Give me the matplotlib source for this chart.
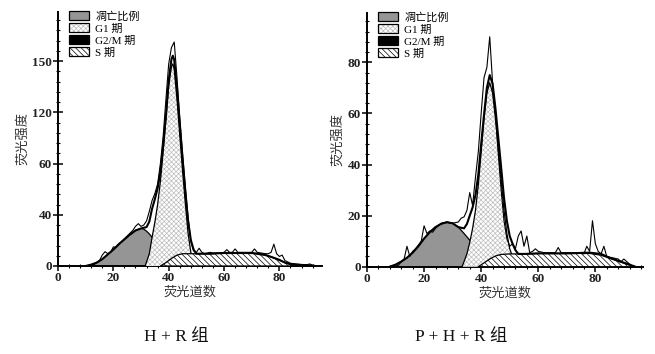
import numpy as np
import matplotlib.pyplot as plt
from matplotlib.patches import Patch
from matplotlib.legend_handler import HandlerTuple
from matplotlib.ticker import MultipleLocator

plt.rcParams['hatch.linewidth'] = 0.5
serif_cjk = ['Liberation Serif', 'Noto Sans CJK SC']

# ---------- H + R 组 (y in axis units; labels on this axis are 0,40,60,120,150) ----------
hr_apo_x = [10, 12, 14, 16, 18, 20, 22, 24, 26, 28, 30, 31, 32, 33, 34, 35, 36, 37, 38, 39]
hr_apo_y = [0, 1, 2.5, 5, 8.5, 12, 16, 19.5, 23, 26, 27.5, 27, 25.5, 23.5, 21, 17, 12, 7, 3, 0]
hr_g1_x = [31.5, 33, 34, 35, 36, 37, 38, 39, 40, 41, 41.5, 42, 43, 44, 45, 46, 47, 48, 49, 50]
hr_g1_y = [0, 9, 21, 32, 45, 62, 84, 108, 132, 146, 148, 144, 122, 96, 70, 46, 24, 10, 3, 0]
hr_g2m_x = [74, 78, 82, 86]
hr_g2m_y = [0, 1, 1, 0]
hr_s_x = [37, 39, 41, 43, 45, 50, 55, 60, 65, 70, 73, 76, 79, 82, 84, 86]
hr_s_y = [0, 2.5, 5.5, 8, 9, 9, 9, 9.5, 9.5, 9.5, 9, 7.5, 5, 2.5, 1, 0]
hr_fit_x = [10, 12, 14, 16, 18, 20, 22, 24, 26, 28, 30, 32, 33, 34, 35, 36, 37, 38, 39, 40,
            41, 41.5, 42, 43, 44, 45, 46, 47, 48, 49, 50, 55, 60, 65, 70, 75, 78, 80, 82, 84,
            86, 88, 90, 92, 93]
hr_fit_y = [0, 1, 2.5, 5, 8.5, 12, 16, 19.5, 23, 26, 27.5, 28.5, 32.5, 42, 49, 57, 69, 88, 110, 136,
            151.5, 154, 151, 130, 104.5, 79, 55, 33, 19, 12, 9, 9, 9.5, 9.5, 9.5, 8, 6, 4.5, 2.5, 1.5,
            1, 0.8, 0.5, 0.3, 0]
hr_raw_x = [11, 13, 15, 16, 17, 18, 19, 20, 21, 22, 24, 26, 27, 28, 29, 30, 31, 32, 33, 34,
            35, 36, 37, 38, 39, 40, 41, 42, 43, 44, 45, 46, 47, 48, 49, 50, 51, 52, 53, 55,
            56, 58, 60, 61, 62, 63, 64, 65, 67, 70, 71, 72, 75, 76, 77, 78, 79, 80, 81, 82,
            84, 86, 88, 90, 91, 92, 93]
hr_raw_y = [0, 1, 4, 8, 10.5, 9, 10, 14, 13.5, 16, 20, 24, 26, 29, 31, 29, 30, 33, 40, 48,
            53, 60, 75, 95, 122, 148, 160, 164, 138, 108, 82, 58, 36, 18, 11, 10, 13, 10, 9, 10,
            9.5, 9.5, 10, 12, 10, 10, 12.5, 10, 10, 10, 12.5, 10, 9, 9, 10, 16, 9, 7, 8, 4,
            2, 1.5, 1, 1, 1.5, 0.5, 0]
hr_ytick_pos = [0, 37.5, 75, 112.5, 150]
hr_ytick_lab = ['0', '40', '60', '120', '150']

# ---------- P + H + R 组 ----------
phr_apo_x = [8, 10, 12, 14, 16, 18, 20, 22, 24, 26, 28, 30, 32, 34, 36, 38, 40]
phr_apo_y = [0, 0.8, 2, 3.5, 5.5, 8, 11, 13.5, 15.5, 16.8, 17.4, 17, 15.5, 13, 10.4, 6, 2]
phr_g1_x = [33.3, 34, 35, 36, 37, 38, 39, 40, 41, 42, 43, 44, 45, 46, 47, 48, 49, 50, 51, 52, 53]
phr_g1_y = [0, 2, 5, 9.5, 15, 22, 32, 45, 58, 68, 72, 68, 58, 46, 34, 22, 13, 7, 4, 1.5, 0]
phr_g2m_x = [76, 80, 84, 88]
phr_g2m_y = [0, 1, 1, 0]
phr_s_x = [39, 41, 43, 45, 47, 50, 55, 60, 70, 78, 82, 85, 88, 91, 94]
phr_s_y = [0, 1.5, 3, 4.2, 4.8, 5, 5, 5.2, 5.2, 5.2, 4.5, 3.3, 2.2, 1, 0]
phr_fit_x = [8, 10, 12, 14, 16, 18, 20, 22, 24, 26, 28, 30, 32, 34, 35, 36, 37, 38, 39, 40,
             41, 42, 43, 44, 45, 46, 47, 48, 49, 50, 51, 52, 53, 55, 60, 70, 78, 82, 85, 88,
             91, 94]
phr_fit_y = [0, 0.8, 2, 3.5, 5.5, 8, 11, 13.5, 15.5, 16.8, 17.4, 17, 15.5, 15, 16.7, 20, 23.2, 28, 36, 48,
             59.5, 70, 75, 71.6, 62, 50.5, 38.8, 27, 18, 12, 9, 6.5, 5, 5, 5.2, 5.2, 5.5, 5, 3.5, 2.3,
             1.2, 0]
phr_raw_x = [9, 11, 12, 13, 14, 15, 16, 17, 18, 19, 20, 21, 22, 23, 24, 26, 28, 30, 32, 33,
             34, 35, 36, 37, 38, 39, 40, 41, 42, 43, 44, 45, 46, 47, 48, 49, 50, 51, 52, 53,
             54, 55, 56, 57, 58, 59, 60, 62, 64, 66, 67, 68, 70, 74, 76, 77, 78, 79, 80, 81,
             82, 83, 84, 86, 88, 89, 90, 91, 92, 93]
phr_raw_y = [0, 0.5, 2, 3, 8, 4, 6, 7, 8.5, 10, 16, 13, 14, 13.5, 15, 17, 17.5, 17, 17.5, 19,
             19.5, 22, 29, 24, 35, 45, 60, 74, 78, 90, 72, 60, 44, 30, 18, 11, 8, 9, 7, 12,
             14, 8, 12, 5.5, 6, 7, 6, 5.5, 5.5, 5.5, 7.5, 5.5, 5.5, 5.5, 5, 8, 6, 18, 9, 6,
             5, 8, 4, 3.5, 3, 2, 3, 2, 1, 0]
phr_ytick_pos = [0, 20, 40, 60, 80]
phr_ytick_lab = ['0', '20', '40', '60', '80']

legend_labels = ['凋亡比例', 'G1 期', 'G2/M 期', 'S 期']
gray = '#959595'
g1_hatch = 'x' * 7
s_hatch = '\\' * 6


def draw_panel(ax, apo, g1, g2m, s, fit, raw, ylim, xmax, yticks, ylabs, minor_step):
    ax.fill_between(apo[0], apo[1], color=gray, lw=0, zorder=2)
    ax.plot(apo[0], apo[1], color='black', lw=0.9, zorder=2.1)
    ax.fill_between(g1[0], g1[1], facecolor='white', edgecolor='#bdbdbd', hatch=g1_hatch, lw=0, zorder=3)
    ax.plot(g1[0], g1[1], color='black', lw=0.9, zorder=3.1)
    ax.fill_between(g2m[0], g2m[1], color='black', lw=0, zorder=3.5)
    ax.fill_between(s[0], s[1], facecolor='white', edgecolor='black', hatch=s_hatch, lw=0.9, zorder=4)
    ax.plot(fit[0], fit[1], color='black', lw=1.5, zorder=5)
    ax.plot(raw[0], raw[1], color='black', lw=0.8, zorder=6)

    ax.set_xlim(0, xmax)
    ax.set_ylim(0, ylim)
    ax.set_xticks([0, 20, 40, 60, 80])
    ax.xaxis.set_minor_locator(MultipleLocator(4))
    ax.set_yticks(yticks)
    ax.set_yticklabels(ylabs)
    ax.yaxis.set_minor_locator(MultipleLocator(minor_step))
    for sp in ['top', 'right']:
        ax.spines[sp].set_visible(False)
    for sp in ['left', 'bottom']:
        ax.spines[sp].set_linewidth(1.4)
    ax.tick_params(which='major', direction='inout', length=7, width=1.1,
                   labelsize=9.5, labelcolor='#222222', pad=1)
    ax.tick_params(which='minor', direction='inout', length=3.5, width=0.8)
    for lab in ax.get_xticklabels() + ax.get_yticklabels():
        lab.set_fontfamily('Liberation Serif')
        lab.set_fontweight('bold')

    ax.set_xlabel('荧光道数', family='Noto Sans CJK SC', fontsize=9.5, color='#333333', labelpad=1)
    ax.set_ylabel('荧光强度', family='Noto Sans CJK SC', fontsize=9.5, color='#333333', labelpad=2)

    handles = [
        Patch(facecolor=gray, edgecolor='black', lw=0.9),
        (Patch(facecolor='white', edgecolor='#bdbdbd', hatch=g1_hatch, lw=0),
         Patch(facecolor='none', edgecolor='black', lw=0.9)),
        Patch(facecolor='black', edgecolor='black', lw=0.9),
        Patch(facecolor='white', edgecolor='black', hatch=s_hatch, lw=0.9),
    ]
    ax.legend(handles, legend_labels, loc='upper left', bbox_to_anchor=(0.015, 1.03),
              frameon=False, prop={'family': serif_cjk, 'size': 8},
              handlelength=1.8, handleheight=0.85, labelspacing=0.15,
              handletextpad=0.6, borderpad=0.1,
              handler_map={tuple: HandlerTuple(ndivide=1)})


fig = plt.figure(figsize=(6.55, 3.54), dpi=100)
ax1 = fig.add_axes([58 / 655, 1 - 266 / 354, 264 / 655, 254 / 354])
ax2 = fig.add_axes([367 / 655, 1 - 266.7 / 354, 276 / 655, 253.7 / 354])

draw_panel(ax1, (hr_apo_x, hr_apo_y), (hr_g1_x, hr_g1_y), (hr_g2m_x, hr_g2m_y),
           (hr_s_x, hr_s_y), (hr_fit_x, hr_fit_y), (hr_raw_x, hr_raw_y),
           186, 95.4, hr_ytick_pos, hr_ytick_lab, 7.5)
draw_panel(ax2, (phr_apo_x, phr_apo_y), (phr_g1_x, phr_g1_y), (phr_g2m_x, phr_g2m_y),
           (phr_s_x, phr_s_y), (phr_fit_x, phr_fit_y), (phr_raw_x, phr_raw_y),
           99.3, 96.7, phr_ytick_pos, phr_ytick_lab, 4)

fig.text(176 / 655, 1 - 337 / 354, 'H + R 组', family=serif_cjk, fontsize=12.5,
         ha='center', va='center', color='#111111')
fig.text(461 / 655, 1 - 337 / 354, 'P + H + R 组', family=serif_cjk, fontsize=12.5,
         ha='center', va='center', color='#111111')

fig.savefig('out.png', dpi=100)
